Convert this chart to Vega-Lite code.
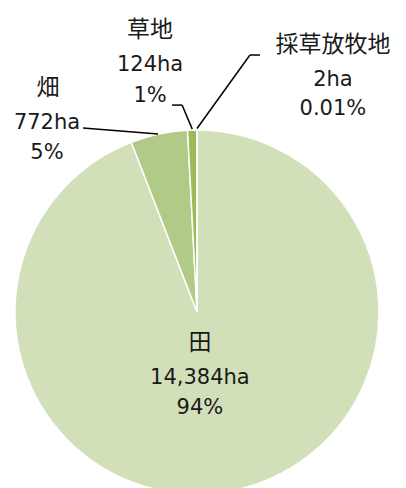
{
  "$schema": "https://vega.github.io/schema/vega-lite/v6.json",
  "width": 406,
  "height": 488,
  "autosize": {"type": "none"},
  "padding": 0,
  "background": "white",
  "config": {"view": {"stroke": null}},
  "data": {
    "values": [
      {"name": "田", "ha": 14384, "pct": "94%", "ord": 1},
      {"name": "畑", "ha": 772, "pct": "5%", "ord": 2},
      {"name": "草地", "ha": 124, "pct": "1%", "ord": 3},
      {"name": "採草放牧地", "ha": 2, "pct": "0.01%", "ord": 4}
    ]
  },
  "transform": [
    {"calculate": "[format(datum.ha, ',') + 'ha', datum.pct]", "as": "label"}
  ],
  "layer": [
    {
      "mark": {"type": "arc", "outerRadius": 182, "stroke": "white", "strokeWidth": 1.5},
      "encoding": {
        "x": {"datum": 0, "type": "quantitative", "scale": {"domain": [-1.0824, 1.1484], "nice": false, "zero": false}, "axis": null},
        "y": {"datum": 0, "type": "quantitative", "scale": {"domain": [-0.967, 1.7143], "nice": false, "zero": false}, "axis": null},
        "theta": {"field": "ha", "type": "quantitative", "stack": true},
        "order": {"field": "ord", "type": "quantitative"},
        "color": {"field": "name", "type": "nominal", "legend": null,
          "scale": {"domain": ["田", "畑", "草地", "採草放牧地"], "range": ["#d2e0ba", "#b2ca88", "#9bbb59", "#77933c"]}}
      }
    },
    {
      "data": {"values": [{}]},
      "mark": {"type": "rule", "color": "#000000", "strokeWidth": 1.5},
      "encoding": {
        "x": {"datum": -0.626, "type": "quantitative"},
        "y": {"datum": 1.011, "type": "quantitative"},
        "x2": {"datum": -0.214},
        "y2": {"datum": 0.978}
      }
    },
    {
      "data": {"values": [{}]},
      "mark": {"type": "rule", "color": "#000000", "strokeWidth": 1.5},
      "encoding": {
        "x": {"datum": -0.137, "type": "quantitative"},
        "y": {"datum": 1.137, "type": "quantitative"},
        "x2": {"datum": -0.082},
        "y2": {"datum": 1.137}
      }
    },
    {
      "data": {"values": [{}]},
      "mark": {"type": "rule", "color": "#000000", "strokeWidth": 1.5},
      "encoding": {
        "x": {"datum": -0.082, "type": "quantitative"},
        "y": {"datum": 1.137, "type": "quantitative"},
        "x2": {"datum": -0.026},
        "y2": {"datum": 1.005}
      }
    },
    {
      "data": {"values": [{}]},
      "mark": {"type": "rule", "color": "#000000", "strokeWidth": 1.5},
      "encoding": {
        "x": {"datum": 0.346, "type": "quantitative"},
        "y": {"datum": 1.412, "type": "quantitative"},
        "x2": {"datum": 0.291},
        "y2": {"datum": 1.412}
      }
    },
    {
      "data": {"values": [{}]},
      "mark": {"type": "rule", "color": "#000000", "strokeWidth": 1.5},
      "encoding": {
        "x": {"datum": 0.291, "type": "quantitative"},
        "y": {"datum": 1.412, "type": "quantitative"},
        "x2": {"datum": 0.0},
        "y2": {"datum": 1.008}
      }
    },
    {
      "transform": [{"filter": "datum.name === '田'"}],
      "mark": {"type": "text", "font": "Noto Sans CJK JP", "fontSize": 23, "align": "center", "baseline": "middle", "color": "#1a1a1a"},
      "encoding": {
        "x": {"datum": 0.016, "type": "quantitative"},
        "y": {"datum": -0.170, "type": "quantitative"},
        "text": {"field": "name"}
      }
    },
    {
      "transform": [{"filter": "datum.name === '田'"}],
      "mark": {"type": "text", "font": "DejaVu Sans", "fontSize": 21, "lineHeight": 30, "align": "center", "baseline": "middle", "color": "#1a1a1a"},
      "encoding": {
        "x": {"datum": 0.016, "type": "quantitative"},
        "y": {"datum": -0.363, "type": "quantitative"},
        "text": {"field": "label"}
      }
    },
    {
      "transform": [{"filter": "datum.name === '畑'"}],
      "mark": {"type": "text", "font": "Noto Sans CJK JP", "fontSize": 23, "align": "center", "baseline": "middle", "color": "#1a1a1a"},
      "encoding": {
        "x": {"datum": -0.819, "type": "quantitative"},
        "y": {"datum": 1.231, "type": "quantitative"},
        "text": {"field": "name"}
      }
    },
    {
      "transform": [{"filter": "datum.name === '畑'"}],
      "mark": {"type": "text", "font": "DejaVu Sans", "fontSize": 21, "lineHeight": 30, "align": "center", "baseline": "middle", "color": "#1a1a1a"},
      "encoding": {
        "x": {"datum": -0.824, "type": "quantitative"},
        "y": {"datum": 1.038, "type": "quantitative"},
        "text": {"field": "label"}
      }
    },
    {
      "transform": [{"filter": "datum.name === '草地'"}],
      "mark": {"type": "text", "font": "Noto Sans CJK JP", "fontSize": 23, "align": "center", "baseline": "middle", "color": "#1a1a1a"},
      "encoding": {
        "x": {"datum": -0.258, "type": "quantitative"},
        "y": {"datum": 1.549, "type": "quantitative"},
        "text": {"field": "name"}
      }
    },
    {
      "transform": [{"filter": "datum.name === '草地'"}],
      "mark": {"type": "text", "font": "DejaVu Sans", "fontSize": 21, "lineHeight": 31, "align": "center", "baseline": "middle", "color": "#1a1a1a"},
      "encoding": {
        "x": {"datum": -0.258, "type": "quantitative"},
        "y": {"datum": 1.357, "type": "quantitative"},
        "text": {"field": "label"}
      }
    },
    {
      "transform": [{"filter": "datum.name === '採草放牧地'"}],
      "mark": {"type": "text", "font": "Noto Sans CJK JP", "fontSize": 23, "align": "center", "baseline": "middle", "color": "#1a1a1a"},
      "encoding": {
        "x": {"datum": 0.747, "type": "quantitative"},
        "y": {"datum": 1.467, "type": "quantitative"},
        "text": {"field": "name"}
      }
    },
    {
      "transform": [{"filter": "datum.name === '採草放牧地'"}],
      "mark": {"type": "text", "font": "DejaVu Sans", "fontSize": 21, "lineHeight": 29, "align": "center", "baseline": "middle", "color": "#1a1a1a"},
      "encoding": {
        "x": {"datum": 0.747, "type": "quantitative"},
        "y": {"datum": 1.275, "type": "quantitative"},
        "text": {"field": "label"}
      }
    }
  ]
}
